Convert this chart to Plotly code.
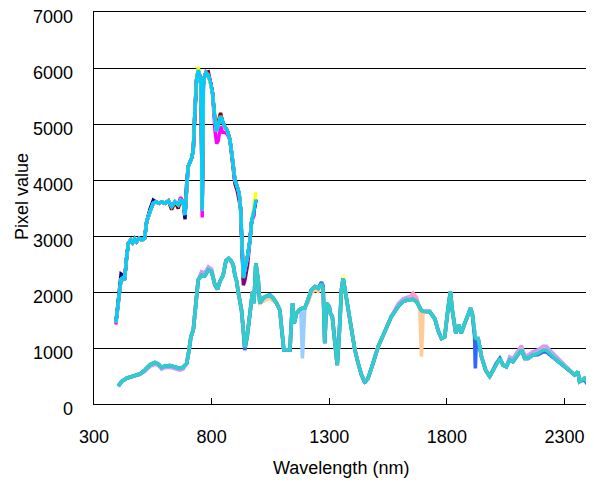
import plotly.graph_objects as go

# ---------------- data ----------------
# Upper group: VNIR spectra (approx. 390-990 nm)
U_WL = [393, 402, 410, 415, 422, 430, 439, 446, 456, 464,
        473, 481, 492, 504, 515, 524, 538, 552, 563, 577,
        587, 602, 616, 630, 644, 658, 668, 679, 687, 693,
        700, 715, 722, 729, 736, 743, 750, 755, 760, 765,
        770, 776, 786, 796, 804, 814, 821, 828, 838, 847,
        856, 866, 878, 889, 899, 909, 917, 923, 927, 931,
        935, 941, 953, 963, 970, 981, 988]
U_SKY = [1450, 1800, 2100, 2230, 2250, 2215, 2630, 2870, 2930, 2880,
         2950, 2900, 2960, 2930, 2960, 3260, 3435, 3585, 3610, 3585,
         3610, 3585, 3630, 3525, 3610, 3555, 3640, 3610, 3375, 3900,
         4240, 4390, 4535, 5250, 5790, 5965, 5850, 5700, 3450, 5700,
         5850, 5920, 5875, 5725, 5550, 5070, 4865, 4980, 5140, 5040,
         4950, 4890, 4715, 4360, 4000, 3880, 3760, 3500, 3000, 2500,
         2250, 2390, 2630, 2930, 3255, 3465, 3650]
# the other VNIR spectra differ from the top one only at these wavelengths
U_NAVY_DIFF = {415: 2320, 422: 2300, 538: 3480, 552: 3640, 687: 3300,
               935: 2200, 941: 2330, 981: 3520, 988: 3620}
U_PURPLE_DIFF = {889: 4300, 899: 3930, 909: 3800, 917: 3650, 935: 2120,
                 941: 2200, 953: 2480}
U_DARKRED_DIFF = {630: 3470, 658: 3490, 786: 5930, 828: 5030, 838: 5200}
U_MAGENTA_DIFF = {393: 1420, 668: 3690, 760: 3330, 814: 4900, 821: 4650,
                  828: 4700, 838: 4960, 847: 4850, 856: 4850, 866: 4820,
                  981: 3380, 988: 3380}
U_YELLOW_DIFF = {743: 6020, 981: 3560, 988: 3780}

# Lower group: VNIR-SWIR spectra (approx. 400-2400 nm)
L_WL = [403, 417, 439, 467, 495, 517, 538, 559, 573, 587,
        602, 623, 644, 665, 679, 694, 704, 712, 722, 732,
        743, 757, 771, 786, 800, 814, 825, 835, 849, 861,
        872, 882, 892, 899, 906, 913, 920, 927, 935, 941,
        951, 963, 974, 980, 988, 998, 1005, 1019, 1034, 1048,
        1062, 1076, 1090, 1100, 1107, 1121, 1133, 1137, 1144, 1151,
        1161, 1172, 1179, 1186, 1196, 1210, 1224, 1239, 1253, 1267,
        1274, 1281, 1288, 1300, 1305, 1313, 1323, 1334, 1342, 1352,
        1359, 1370, 1380, 1394, 1409, 1423, 1437, 1451, 1465, 1486,
        1508, 1536, 1564, 1593, 1614, 1635, 1656, 1671, 1685, 1692,
        1699, 1706, 1727, 1749, 1763, 1777, 1791, 1805, 1815, 1823,
        1838, 1851, 1861, 1876, 1890, 1901, 1908, 1918, 1921, 1925,
        1933, 1947, 1965, 1982, 1996, 2010, 2025, 2039, 2053, 2067,
        2081, 2095, 2117, 2131, 2145, 2166, 2187, 2209, 2223, 2237,
        2266, 2294, 2322, 2343, 2357, 2364, 2385, 2400]
L_TEAL = [320, 400, 460, 500, 535, 610, 700, 740, 715, 655,
          680, 685, 665, 635, 655, 725, 965, 1200, 1320, 1800,
          2215, 2300, 2285, 2390, 2360, 2125, 2050, 2185, 2300, 2560,
          2600, 2560, 2480, 2300, 2200, 2005, 1850, 1680, 1300, 1010,
          1200, 1620, 2005, 1800, 2510, 2215, 1800, 1890, 1930, 1945,
          1890, 1800, 1680, 1250, 965, 965, 965, 1300, 1800, 1440,
          1620, 1680, 1700, 1710, 1710, 1860, 2035, 2095, 2065, 2145,
          2065, 1085, 1800, 1740, 1620, 1560, 1085, 695, 1200, 2035,
          2245, 1980, 1680, 1320, 965, 725, 520, 400, 460, 725,
          1025, 1290, 1560, 1740, 1830, 1860, 1870, 1830, 1700, 1670,
          1655, 1650, 1650, 1520, 1310, 1170, 1200, 1710, 2005, 1680,
          1265, 1410, 1265, 1440, 1590, 1710, 1620, 1200, 1180, 1170,
          1170, 845, 605, 490, 605, 725, 815, 695, 665, 785,
          755, 845, 965, 815, 815, 875, 905, 965, 965, 905,
          785, 695, 605, 520, 575, 400, 460, 370]
L_LAVENDER_DIFF = {517: 585, 538: 670, 559: 710, 573: 690, 587: 625, 602: 650,
                   623: 655, 644: 635, 665: 605, 679: 625, 757: 2360, 771: 2340,
                   786: 2450, 800: 2410, 1593: 1790, 1614: 1880, 1635: 1910,
                   1656: 1920, 2067: 840, 2081: 810, 2095: 900, 2117: 1040,
                   2131: 870, 2145: 870, 2166: 935, 2187: 965, 2209: 1030,
                   2223: 1030, 2237: 965, 2266: 840, 2294: 740}
L_PINK_DIFF = {1656: 1980, 1671: 1900, 2117: 1010, 2209: 1000}
L_LIGHTYELLOW_DIFF = {988: 2540, 1359: 2310}
L_PEACH_DIFF = {1019: 1830, 1034: 1870, 1048: 1885, 1062: 1840, 1210: 1810,
                1224: 1985, 1239: 2040, 1253: 2010, 1267: 2090, 1692: 845}
L_LIGHTBLUE_DIFF = {1186: 815}
L_BLUE_DIFF = {941: 960, 1267: 2175, 1274: 2110, 1451: 380, 1921: 635,
               1925: 1100, 2187: 880, 2209: 930, 2223: 935, 2237: 880,
               2385: 430, 2400: 340}

X_TICKS = [300, 800, 1300, 1800, 2300]
Y_TICKS = [0, 1000, 2000, 3000, 4000, 5000, 6000, 7000]

assert len(U_WL) == len(U_SKY)
assert len(L_WL) == len(L_TEAL)


def variant(wl, base, diff):
    return [diff.get(w, v) for w, v in zip(wl, base)]


FONT = "Liberation Sans, Arial, sans-serif"
fig = go.Figure()

upper = [
    ("#000080", U_NAVY_DIFF),
    ("#800080", U_PURPLE_DIFF),
    ("#800000", U_DARKRED_DIFF),
    ("#FF00FF", U_MAGENTA_DIFF),
    ("#FFFF00", U_YELLOW_DIFF),
    ("#00CCFF", {}),
]
for color, diff in upper:
    fig.add_trace(go.Scatter(x=U_WL, y=variant(U_WL, U_SKY, diff), mode="lines",
                             line=dict(color=color, width=3.4), hoverinfo="skip"))

lower = [
    ("#CC99FF", L_LAVENDER_DIFF),
    ("#FF99CC", L_PINK_DIFF),
    ("#FFFF99", L_LIGHTYELLOW_DIFF),
    ("#FFCC99", L_PEACH_DIFF),
    ("#99CCFF", L_LIGHTBLUE_DIFF),
    ("#3366FF", L_BLUE_DIFF),
    ("#33CCCC", {}),
]
for color, diff in lower:
    fig.add_trace(go.Scatter(x=L_WL, y=variant(L_WL, L_TEAL, diff), mode="lines",
                             line=dict(color=color, width=3.6), hoverinfo="skip"))

# y tick labels sit a few pixels below their gridlines (as in the reference)
y_labels = [dict(text=str(v), xref="paper", yref="y", x=0, y=v,
                 xanchor="right", yanchor="middle", showarrow=False,
                 height=18, borderpad=0,
                 xshift=-20, yshift=-5, font=dict(size=18)) for v in Y_TICKS]

# the page body adds an 8 px margin, so the figure is 8 px smaller and shifted
fig.update_layout(
    width=586, height=478,
    margin=dict(l=86, r=6, t=4, b=82),
    paper_bgcolor="white", plot_bgcolor="white",
    showlegend=False,
    font=dict(family=FONT, size=18, color="black"),
    xaxis=dict(range=[300, 2400], tickvals=X_TICKS, ticks="inside", ticklen=6,
               tickcolor="black", showline=True, linecolor="black", linewidth=1,
               mirror=True, showgrid=False, zeroline=False, automargin=False,
               ticklabelstandoff=16, ticklabeloverflow="allow",
               tickfont=dict(size=18)),
    yaxis=dict(range=[0, 7000], tickvals=Y_TICKS, showline=True, linecolor="black",
               linewidth=1, mirror=True, showgrid=True, gridcolor="black",
               gridwidth=1, zeroline=False, ticks="", showticklabels=False,
               automargin=False),
    annotations=y_labels + [
        dict(text="Pixel value", xref="paper", yref="paper", x=0, y=0.5,
             xanchor="center", yanchor="middle", textangle=-90, showarrow=False,
             xshift=-72, yshift=11, font=dict(size=18)),
        dict(text="Wavelength (nm)", xref="paper", yref="paper", x=0.5, y=0,
             xanchor="center", yanchor="middle", showarrow=False,
             yshift=-64, font=dict(size=18)),
    ],
)

fig.write_html("out.html")
